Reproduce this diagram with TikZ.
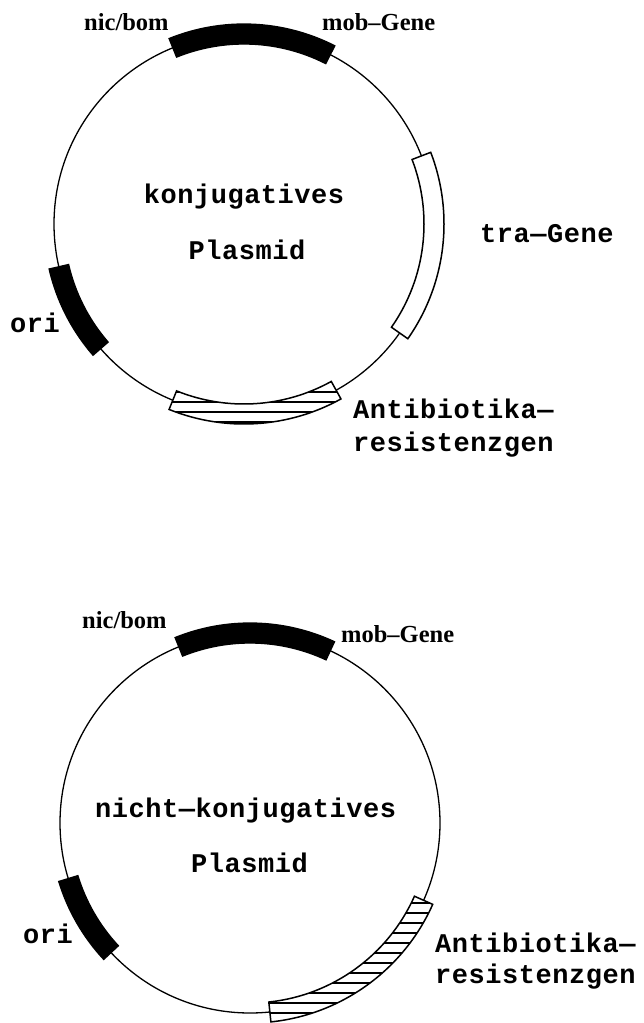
\documentclass[tikz,border=0pt]{standalone}
\usepackage{fontspec}
\setmainfont{Liberation Serif}
\newfontfamily\typefont{Liberation Mono}[LetterSpace=2]
\tikzset{
  plasmidring/.style={line width=1.3pt, draw=black},
  geneblack/.style={draw=black, line width=1.3pt, fill=black},
  genewhite/.style={draw=black, line width=1.5pt, fill=white},
  geneframe/.style={draw=black, line width=1.5pt},
  hatchline/.style={draw=black, line width=1.4pt},
  serlabel/.style={font=\bfseries\fontsize{24.5}{24.5}\selectfont, inner sep=0pt, anchor=base west},
  twlabel/.style={font=\typefont\bfseries\fontsize{27}{27}\selectfont, inner sep=0pt, anchor=base west},
}
% band on the ring: centre, start angle, end angle
\newcommand{\bandpath}[3]{([shift={(#1)}]#2:200) arc[start angle=#2, end angle=#3, radius=200]
  -- ([shift={(#1)}]#3:180) arc[start angle=#3, end angle=#2, radius=180] -- cycle}

\begin{document}
\begin{tikzpicture}[x=1pt, y=-1pt]
  \useasboundingbox (0,0) rectangle (644,1023);

  % Top plasmid
  \coordinate (ctop) at (244,224);
  \draw[plasmidring] (ctop) circle[radius=190];
  \path[geneblack] \bandpath{ctop}{-63}{-112};
  \path[genewhite] \bandpath{ctop}{35}{-21};
  \path[geneblack] \bandpath{ctop}{-193}{-221};
  \begin{scope}
    \clip \bandpath{ctop}{-248}{-299};
    \fill[white] \bandpath{ctop}{-248}{-299};
    \foreach \k in {16,...,21}
      \draw[hatchline, shift={(ctop)}] (-210,\k*10-2) -- (210,\k*10-2);
  \end{scope}
  \path[geneframe] \bandpath{ctop}{-248}{-299};

  \node[serlabel] (nictop) at (84,30) {nic/bom};
  \node[serlabel] (mobtop) at (322,30) {mob–Gene};
  \node[twlabel, anchor=base] (konjtop) at (244,203) {konjugatives};
  \node[twlabel, anchor=base] (plastop) at (247,259) {Plasmid};
  \node[twlabel] (tratop) at (480,242) {tra—Gene};
  \node[twlabel] (oritop) at (10,332) {ori};
  \node[twlabel] (antitop) at (353,418) {Antibiotika—};
  \node[twlabel] (restop) at (353,451) {resistenzgen};

  % Bottom plasmid
  \coordinate (cbot) at (250,823);
  \draw[plasmidring] (cbot) circle[radius=190];
  \path[geneblack] \bandpath{cbot}{-65}{-112};
  \path[geneblack] \bandpath{cbot}{-197}{-223};
  \begin{scope}
    \clip \bandpath{cbot}{84}{24};
    \fill[white] \bandpath{cbot}{84}{24};
    \foreach \k in {4,...,21}
      \draw[hatchline, shift={(cbot)}] (0,\k*10) -- (220,\k*10);
  \end{scope}
  \path[geneframe] \bandpath{cbot}{84}{24};

  \node[serlabel] (nicbot) at (82,628) {nic/bom};
  \node[serlabel] (mobbot) at (341,642) {mob–Gene};
  \node[twlabel] (konjbot) at (95,817) {nicht—konjugatives};
  \node[twlabel] (plasbot) at (191,872) {Plasmid};
  \node[twlabel] (oribot) at (23,943) {ori};
  \node[twlabel] (antibot) at (435,952) {Antibiotika—};
  \node[twlabel] (resbot) at (435,983) {resistenzgen};
\end{tikzpicture}
\end{document}
